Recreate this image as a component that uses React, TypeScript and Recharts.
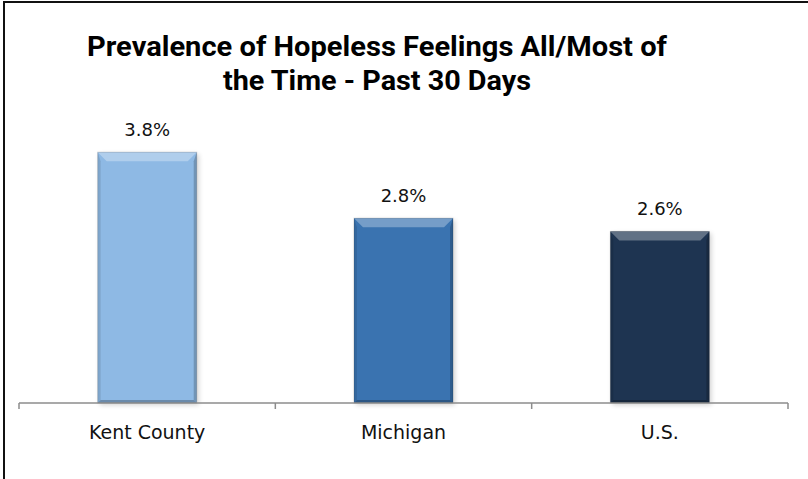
import React from 'react';
import { BarChart, Bar, XAxis, YAxis, Cell, LabelList } from 'recharts';

const regions = ['Kent County', 'Michigan', 'U.S.'];
const prevalence = [3.8, 2.8, 2.6];
const barColors = ['#8EB9E4', '#3A73B0', '#1E3451'];
const titleLines = ['Prevalence of Hopeless Feelings All/Most of', 'the Time - Past 30 Days'];

const data = regions.map((name, i) => ({ name, value: prevalence[i] }));

const labelFont = '"DejaVu Sans", "Liberation Sans", sans-serif';

// bevelled bar with soft shadow, roughly like the Excel preset
const BevelBar = (props: any) => {
  const { x, y, width, height, fill } = props;
  if (!height || height <= 0) return null;
  const b = 9;
  return (
    <g>
      <rect x={x + 2} y={y + 2} width={width} height={height} fill="#000" opacity={0.18} filter="url(#barShadow)" />
      <rect x={x} y={y} width={width} height={height} fill={fill} />
      <polygon
        points={`${x},${y} ${x + width},${y} ${x + width - b},${y + b} ${x + b},${y + b}`}
        fill="#fff"
        opacity={0.3}
      />
      <polygon
        points={`${x},${y} ${x + 3},${y + b} ${x + 3},${y + height - 3} ${x},${y + height}`}
        fill="#000"
        opacity={0.1}
      />
      <polygon
        points={`${x + width},${y} ${x + width - 3},${y + b} ${x + width - 3},${y + height - 3} ${x + width},${y + height}`}
        fill="#000"
        opacity={0.2}
      />
      <polygon
        points={`${x},${y + height} ${x + 3},${y + height - 3} ${x + width - 3},${y + height - 3} ${x + width},${y + height}`}
        fill="#000"
        opacity={0.25}
      />
      <rect x={x} y={y} width={width} height={height} fill="none" stroke="#000" strokeOpacity={0.15} />
    </g>
  );
};

const CategoryTick = (props: any) => {
  const { x, y, payload, index, visibleTicksCount } = props;
  const half = payload && payload.offset ? payload.offset : 769 / 6;
  const last = index === (visibleTicksCount || regions.length) - 1;
  return (
    <g>
      <line x1={x - half} y1={y} x2={x - half} y2={y + 6} stroke="#8C8C8C" strokeWidth={1.5} />
      {last && <line x1={x + half} y1={y} x2={x + half} y2={y + 6} stroke="#8C8C8C" strokeWidth={1.5} />}
      <text x={x} y={y + 36} textAnchor="middle" fontFamily={labelFont} fontSize={19} fill="#111">
        {payload.value}
      </text>
    </g>
  );
};

export default function App() {
  return (
    <div style={{ position: 'absolute', left: 0, top: 0, width: 808, height: 479, background: '#fff' }}>
      <div
        style={{
          position: 'absolute',
          left: 3,
          top: 1,
          right: 0,
          bottom: 0,
          borderTop: '2px solid #111',
          borderLeft: '2px solid #111',
        }}
      />
      <svg width={808} height={110} style={{ position: 'absolute', left: 0, top: 0 }}>
        <text
          x={377}
          y={56}
          textAnchor="middle"
          fontFamily='"Liberation Sans Narrow", Roboto, sans-serif'
          fontWeight="bold"
          fontSize={27}
          textLength={580}
          lengthAdjust="spacingAndGlyphs"
        >
          {titleLines[0]}
        </text>
        <text
          x={377}
          y={90}
          textAnchor="middle"
          fontFamily='"Liberation Sans Narrow", Roboto, sans-serif'
          fontWeight="bold"
          fontSize={27}
          textLength={308}
          lengthAdjust="spacingAndGlyphs"
        >
          {titleLines[1]}
        </text>
      </svg>
      <div style={{ position: 'absolute', left: 0, top: 0 }}>
        <BarChart
          width={808}
          height={479}
          data={data}
          margin={{ top: 139, right: 20, left: 19, bottom: 0 }}
          barCategoryGap="30.7%"
        >
          <defs>
            <filter id="barShadow" x="-20%" y="-20%" width="140%" height="140%">
              <feGaussianBlur stdDeviation="2.5" />
            </filter>
          </defs>
          <XAxis
            dataKey="name"
            height={76}
            tickLine={false}
            tickSize={0}
            tickMargin={0}
            axisLine={{ stroke: '#8C8C8C', strokeWidth: 1.5 }}
            tick={<CategoryTick />}
            interval={0}
          />
          <YAxis hide domain={[0, 4]} />
          <Bar dataKey="value" shape={<BevelBar />} isAnimationActive={false}>
            {data.map((d, i) => (
              <Cell key={d.name} fill={barColors[i]} />
            ))}
            <LabelList
              dataKey="value"
              position="top"
              offset={16}
              formatter={(v: any) => `${Number(v).toFixed(1)}%`}
              style={{ fontFamily: labelFont, fontSize: 18, fill: '#111' }}
            />
          </Bar>
        </BarChart>
      </div>
    </div>
  );
}
